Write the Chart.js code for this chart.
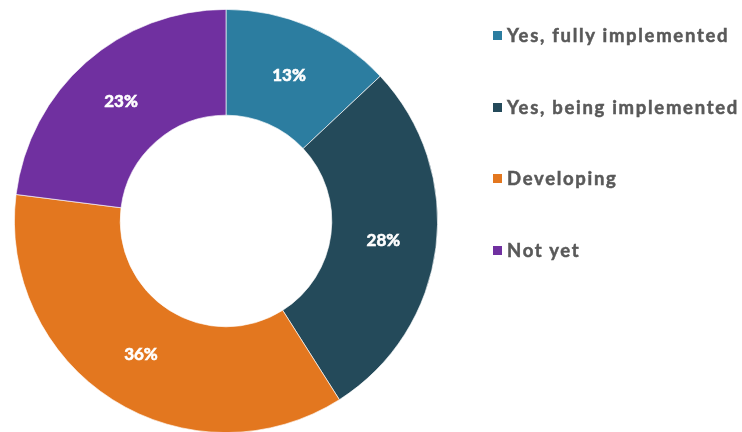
<!DOCTYPE html>
<html>
<head>
<meta charset="utf-8">
<script src="https://cdn.jsdelivr.net/npm/chart.js@4"></script>
<style>
  html, body { margin: 0; padding: 0; background: #fff; overflow: hidden; }
  #wrap { position: relative; width: 742px; height: 432px; overflow: hidden; }
  #wrap canvas { position: absolute; left: 0; top: 0; }
  #legend { position: absolute; left: 493px; top: 0; margin: 0; padding: 0; list-style: none;
            font-family: Lato, "Open Sans", sans-serif; font-weight: 700; font-size: 18.5px;
            letter-spacing: 1.7px; color: #595959; -webkit-text-stroke: 0.5px #595959; }
  #legend li { position: absolute; left: 0; white-space: nowrap; display: flex; align-items: center; height: 20px; }
  #legend span.box { display: inline-block; width: 9px; height: 9px; margin-right: 5px; -webkit-text-stroke: 0; }
</style>
</head>
<body>
<div id="wrap">
  <canvas id="c" width="742" height="434"></canvas>
  <ul id="legend"></ul>
</div>
<script>
const categories = ["Yes, fully implemented", "Yes, being implemented", "Developing", "Not yet"];
const shares = [13, 28, 36, 23];
const sliceColors = ["#2C7DA0", "#244A5A", "#E3771F", "#7030A0"];
const legendRowsY = [35, 107, 178, 250];

// Percentage labels drawn at the middle of each ring segment
const sliceLabels = {
  id: "sliceLabels",
  afterDatasetsDraw(chart) {
    const ctx = chart.ctx;
    const meta = chart.getDatasetMeta(0);
    ctx.save();
    ctx.fillStyle = "#ffffff";
    ctx.strokeStyle = "#ffffff";
    ctx.lineWidth = 0.6;
    ctx.font = "700 17px Lato, 'Open Sans', sans-serif";
    ctx.textAlign = "center";
    ctx.textBaseline = "middle";
    meta.data.forEach((arc, i) => {
      const p = arc.tooltipPosition();
      const txt = shares[i] + "%";
      ctx.fillText(txt, p.x, p.y);
      ctx.strokeText(txt, p.x, p.y);
    });
    ctx.restore();
  }
};

new Chart(document.getElementById("c"), {
  type: "doughnut",
  data: {
    labels: categories,
    datasets: [{
      data: shares,
      backgroundColor: sliceColors,
      borderColor: "rgba(255,255,255,0.8)",
      borderWidth: 0.8
    }]
  },
  options: {
    responsive: false,
    animation: false,
    cutout: "50%",
    layout: { padding: { left: 14, right: 304, top: 9, bottom: 1 } },
    plugins: {
      legend: { display: false },
      tooltip: { enabled: false }
    }
  },
  plugins: [sliceLabels]
});

// Legend on the right
const ul = document.getElementById("legend");
categories.forEach((name, i) => {
  const li = document.createElement("li");
  li.style.top = (legendRowsY[i] - 10) + "px";
  const box = document.createElement("span");
  box.className = "box";
  box.style.background = sliceColors[i];
  li.appendChild(box);
  li.appendChild(document.createTextNode(name));
  ul.appendChild(li);
});
</script>
</body>
</html>
